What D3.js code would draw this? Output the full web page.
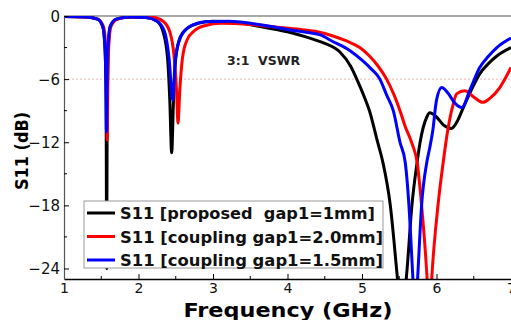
<!DOCTYPE html>
<html>
<head>
<meta charset="utf-8">
<script src="https://cdn.jsdelivr.net/npm/d3@7"></script>
<style>
  body { margin: 0; background: #fff; }
  svg { display: block; }
</style>
</head>
<body>
<div id="chart"></div>
<script>
// S11 curves, [GHz, dB]
const proposedGap1mm = [
  [1.0, -0.05], [1.3, -0.1], [1.45, -0.3], [1.52, -1.0], [1.55, -3], [1.565, -8],
  [1.573, -24], [1.58, -8], [1.595, -3], [1.62, -1.0], [1.7, -0.3], [1.9, -0.1],
  [2.1, -0.15], [2.25, -0.5], [2.33, -1.5], [2.39, -4], [2.42, -8], [2.445, -13],
  [2.47, -8], [2.5, -4], [2.56, -2], [2.65, -1.2], [2.8, -0.7], [3.0, -0.5],
  [3.3, -0.6], [3.7, -1.1], [4.0, -1.5], [4.34, -2.2], [4.5, -2.6], [4.7, -3.4],
  [4.85, -4.8], [4.93, -6], [5.02, -7.5], [5.1, -9], [5.21, -12], [5.28, -13.9],
  [5.38, -18], [5.47, -24.5], [5.53, -29], [5.6, -24.5], [5.67, -18], [5.74, -13.9],
  [5.78, -12], [5.87, -9.6], [5.91, -9.2], [6.0, -9.6], [6.1, -10.4], [6.2, -10.7],
  [6.28, -10], [6.36, -8.7], [6.47, -7], [6.58, -5.5], [6.7, -4.5], [6.81, -3.8],
  [7.0, -3.0]
];
const couplingGap20 = [
  [1.0, -0.05], [1.3, -0.1], [1.45, -0.3], [1.53, -1.0], [1.56, -3], [1.57, -6],
  [1.58, -11.8], [1.59, -6], [1.6, -3], [1.63, -1], [1.72, -0.3], [1.9, -0.1],
  [2.2, -0.15], [2.33, -0.5], [2.42, -1.5], [2.48, -4], [2.51, -7], [2.53, -10.2],
  [2.555, -7], [2.59, -4], [2.65, -2.3], [2.75, -1.4], [2.9, -0.9], [3.1, -0.7],
  [3.5, -0.8], [3.9, -1.1], [4.2, -1.3], [4.4, -1.5], [4.61, -1.9], [4.8, -2.4],
  [4.97, -3.0], [5.1, -3.8], [5.22, -4.8], [5.33, -6], [5.43, -7.5], [5.51, -9],
  [5.58, -10.5], [5.67, -12.1], [5.74, -13.9], [5.8, -18], [5.87, -24.5], [5.905, -29],
  [5.94, -24.5], [6.02, -18], [6.09, -13.9], [6.15, -10.9], [6.22, -8.5], [6.27, -7.4],
  [6.38, -7.1], [6.5, -7.7], [6.62, -8.2], [6.72, -7.8], [6.85, -6.8], [7.0, -4.9]
];
const couplingGap15 = [
  [1.0, -0.05], [1.3, -0.1], [1.45, -0.3], [1.52, -1.0], [1.55, -3], [1.562, -6],
  [1.57, -11], [1.578, -6], [1.59, -3], [1.62, -1], [1.7, -0.3], [1.9, -0.1],
  [2.1, -0.15], [2.25, -0.5], [2.35, -1.5], [2.41, -4], [2.46, -8], [2.49, -4.5],
  [2.54, -2.5], [2.62, -1.4], [2.75, -0.8], [2.9, -0.55], [3.2, -0.5], [3.7, -0.9],
  [4.1, -1.4], [4.3, -1.6], [4.44, -1.8], [4.6, -2.4], [4.84, -3.3], [5.0, -4.2],
  [5.12, -5], [5.24, -6], [5.33, -7.5], [5.42, -9], [5.51, -12], [5.58, -13.9],
  [5.63, -18], [5.68, -24.5], [5.715, -29], [5.75, -24.5], [5.8, -18], [5.87, -13.9],
  [5.91, -12.5], [5.95, -10.9], [6.0, -8], [6.07, -6.8], [6.15, -7.3], [6.25, -8.3],
  [6.34, -8.7], [6.45, -7], [6.58, -4.9], [6.7, -3.8], [6.81, -3.0], [7.0, -2.1]
];

const seriesNames = [
  "S11 [proposed  gap1=1mm]",
  "S11 [coupling gap1=2.0mm]",
  "S11 [coupling gap1=1.5mm]"
];
const seriesColors = ["#000000", "#ff0000", "#0000ff"];
const seriesData = [proposedGap1mm, couplingGap20, couplingGap15];

const xTicks = [1, 2, 3, 4, 5, 6, 7];
const xMinorTicks = [1.5, 2.5, 3.5, 4.5, 5.5, 6.5];
const yTicks = [0, -6, -12, -18, -24];
const yMinorTicks = [-3, -9, -15, -21];
const vswrLevel = -6;

const width = 511, height = 320;
const plot = { left: 64, right: 511, top: 16, bottom: 279 };

const x = d3.scaleLinear().domain([1, 7]).range([plot.left, plot.right]);
const y = d3.scaleLinear().domain([-25, 0]).range([plot.bottom, plot.top]);

const svg = d3.select("#chart").append("svg")
  .attr("width", width)
  .attr("height", height);

svg.append("defs").append("clipPath").attr("id", "plotClip")
  .append("rect")
  .attr("x", plot.left).attr("y", plot.top)
  .attr("width", plot.right - plot.left)
  .attr("height", plot.bottom - plot.top);

// 3:1 VSWR reference line
svg.append("line")
  .attr("x1", plot.left).attr("x2", plot.right)
  .attr("y1", y(vswrLevel)).attr("y2", y(vswrLevel))
  .attr("stroke", "#f4a0a0")
  .attr("stroke-width", 0.8)
  .attr("stroke-dasharray", "2,2");

// frame top
svg.append("line")
  .attr("x1", plot.left).attr("x2", plot.right)
  .attr("y1", plot.top).attr("y2", plot.top)
  .attr("stroke", "#555").attr("stroke-width", 1.2);

// curves
const line = d3.line()
  .x(d => x(d[0]))
  .y(d => y(d[1]))
  .curve(d3.curveMonotoneX);

svg.append("g").attr("clip-path", "url(#plotClip)")
  .selectAll("path")
  .data(seriesData)
  .enter()
  .append("path")
  .attr("d", d => line(d))
  .attr("fill", "none")
  .attr("stroke", (d, i) => seriesColors[i])
  .attr("stroke-width", 3)
  .attr("stroke-linejoin", "round");

// axes (ticks pointing inward)
const xAxis = svg.append("g")
  .attr("transform", `translate(0,${plot.bottom})`)
  .call(d3.axisBottom(x).tickValues(xTicks).tickSizeInner(-5).tickSizeOuter(0).tickPadding(4).tickFormat(d3.format("d")));
xAxis.append("g").selectAll("line").data(xMinorTicks).enter().append("line")
  .attr("x1", d => x(d)).attr("x2", d => x(d))
  .attr("y1", 0).attr("y2", -3)
  .attr("stroke", "#000");

const yAxis = svg.append("g")
  .attr("transform", `translate(${plot.left},0)`)
  .call(d3.axisLeft(y).tickValues(yTicks).tickSizeInner(-5).tickSizeOuter(0).tickPadding(4).tickFormat(d3.format("d")));
yAxis.append("g").selectAll("line").data(yMinorTicks).enter().append("line")
  .attr("x1", 0).attr("x2", 3)
  .attr("y1", d => y(d)).attr("y2", d => y(d))
  .attr("stroke", "#000");

xAxis.select(".domain").attr("stroke", "#000").attr("stroke-width", 1.5);
yAxis.select(".domain").attr("stroke", "#555").attr("stroke-width", 1.2);
svg.selectAll(".tick text")
  .attr("font-family", "DejaVu Sans, sans-serif")
  .attr("font-size", 15)
  .attr("fill", "#111");
xAxis.selectAll(".tick text").attr("font-size", 14);
yAxis.selectAll(".tick text").attr("dy", "0.36em");

// annotation
svg.append("text")
  .attr("x", 227).attr("y", 65)
  .attr("font-family", "DejaVu Sans, sans-serif")
  .attr("font-weight", "bold")
  .attr("font-size", 12.5)
  .attr("fill", "#222")
  .attr("textLength", 73)
  .attr("lengthAdjust", "spacingAndGlyphs")
  .attr("xml:space", "preserve")
  .text("3:1  VSWR");

// axis titles
svg.append("text")
  .attr("x", 288).attr("y", 316.5)
  .attr("text-anchor", "middle")
  .attr("font-family", "DejaVu Sans, sans-serif")
  .attr("font-weight", "bold")
  .attr("font-size", 20)
  .attr("textLength", 209)
  .attr("lengthAdjust", "spacingAndGlyphs")
  .text("Frequency (GHz)");

svg.append("text")
  .attr("transform", "translate(28,151) rotate(-90)")
  .attr("text-anchor", "middle")
  .attr("font-family", "DejaVu Sans, sans-serif")
  .attr("font-weight", "bold")
  .attr("font-size", 17)
  .attr("textLength", 78)
  .attr("lengthAdjust", "spacingAndGlyphs")
  .text("S11 (dB)");

// legend
const legend = svg.append("g");
legend.append("rect")
  .attr("x", 84).attr("y", 201)
  .attr("width", 299).attr("height", 67)
  .attr("fill", "#fff")
  .attr("stroke", "#999")
  .attr("stroke-width", 1);

const legendRows = [0, 1, 2];
const rowY = d3.scaleLinear().domain([0, 2]).range([213, 260]);
const legendWidths = [255, 263, 263];

legendRows.forEach(i => {
  legend.append("line")
    .attr("x1", 87).attr("x2", 115)
    .attr("y1", rowY(i)).attr("y2", rowY(i))
    .attr("stroke", seriesColors[i])
    .attr("stroke-width", 3);
  legend.append("text")
    .attr("x", 120).attr("y", rowY(i) + 6)
    .attr("font-family", "DejaVu Sans, sans-serif")
    .attr("font-weight", "bold")
    .attr("font-size", 15)
    .attr("fill", "#111")
    .attr("textLength", legendWidths[i])
    .attr("lengthAdjust", "spacingAndGlyphs")
    .attr("xml:space", "preserve")
    .text(seriesNames[i]);
});
</script>
</body>
</html>
